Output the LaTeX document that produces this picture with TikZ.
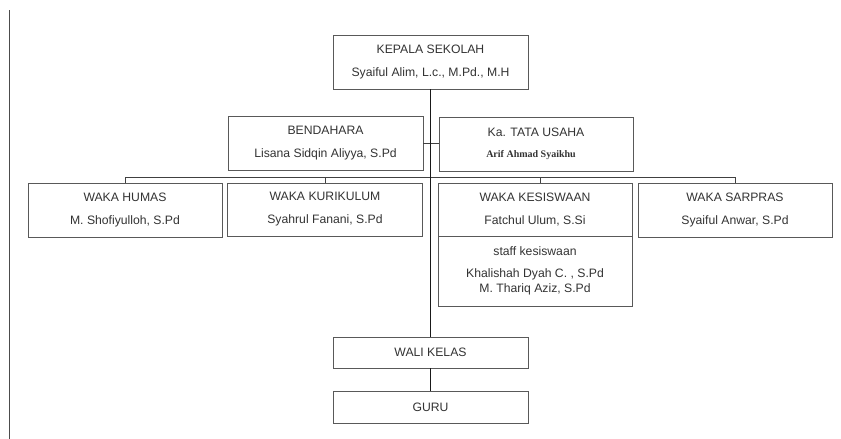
\documentclass[tikz,border=0pt]{standalone}
\usepackage{fontspec}
\setmainfont{Liberation Sans}
\newfontfamily\serifbold{Liberation Serif}
\begin{document}
\begin{tikzpicture}[x=1pt,y=-1pt,
  box/.style={draw=black!65, line width=0.8pt, rectangle, inner sep=0pt, align=center,
    text=black!80, font=\fontsize{12.2}{23}\selectfont},
  conn/.style={draw=black!90, line width=1.4pt},
  thin conn/.style={draw=black!75, line width=1pt}]
\useasboundingbox[fill=white] (0,0) rectangle (841,439);
\coordinate (mtop) at (9.5,10);
\coordinate (mbot) at (9.5,439);
\draw[draw=black!70, line width=1pt] (mtop) -- (mbot);

\node[box, minimum width=195, minimum height=54] (kepala) at (430.5,62)
  {KEPALA SEKOLAH\\Syaiful Alim, L.c., M.Pd., M.H};
\node[box, minimum width=195, minimum height=54] (benda) at (325.5,143)
  {BENDAHARA\\Lisana Sidqin Aliyya, S.Pd};
\node[box, minimum width=194, minimum height=54] (tata) at (536,144)
  {Ka. TATA USAHA\\[-2pt]\hspace*{-10pt}{\serifbold\bfseries\upshape\fontsize{10}{12}\selectfont Arif Ahmad Syaikhu}};
\node[box, minimum width=194, minimum height=54] (humas) at (125,210)
  {WAKA HUMAS\\M. Shofiyulloh, S.Pd};
\node[box, minimum width=195, minimum height=53] (kuri) at (325,209.5)
  {WAKA KURIKULUM\\Syahrul Fanani, S.Pd};
\node[box, minimum width=194, minimum height=53] (kesis) at (535,209.5)
  {WAKA KESISWAAN\\Fatchul Ulum, S.Si};
\node[box, minimum width=194, minimum height=70, font=\fontsize{12.2}{15}\selectfont] (staff) at (535,271)
  {staff kesiswaan\\[7pt]Khalishah Dyah C. , S.Pd\\M. Thariq Aziz, S.Pd};
\node[box, minimum width=194, minimum height=54] (sarpras) at (735,210)
  {WAKA SARPRAS\\Syaiful Anwar, S.Pd};
\node[box, minimum width=195, minimum height=31] (wali) at (430.5,352.5) {WALI KELAS};
\node[box, minimum width=195, minimum height=32] (guru) at (430.5,407) {GURU};

\coordinate (bus) at (430.5,177.7);
\draw[thin conn] (humas.north) -- (humas.north |- bus) -- (sarpras.north |- bus) -- (sarpras.north);
\draw[thin conn] (kuri.north) -- (kuri.north |- bus);
\draw[thin conn] ([xshift=5pt]kesis.north) -- ([xshift=5pt]kesis.north |- bus);
\draw[thin conn] (benda.east) -- (benda.east -| tata.west);
\draw[conn] (kepala.south) -- (wali.north);
\draw[conn] (wali.south) -- (guru.north);
\end{tikzpicture}
\end{document}
